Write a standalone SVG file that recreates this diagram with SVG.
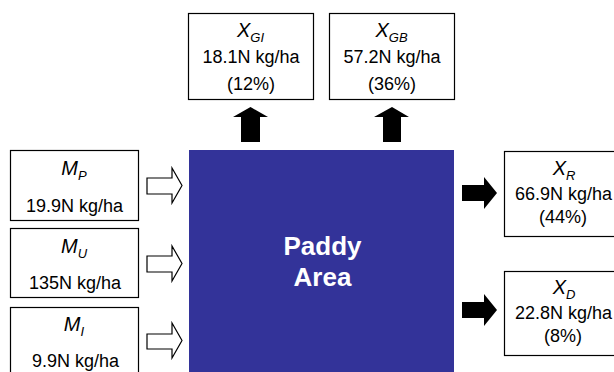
<svg xmlns="http://www.w3.org/2000/svg" width="614" height="372" viewBox="0 0 614 372">
<style>
.box{fill:#fff;stroke:#000;stroke-width:1.2}
.t{font-family:"Liberation Sans",Arial,sans-serif;font-size:18px;fill:#000;text-anchor:middle}
.v{font-family:"Liberation Sans",Arial,sans-serif;font-size:20px;font-style:italic;fill:#000;text-anchor:middle}
.s{font-size:13px}
.hol{fill:#fff;stroke:#000;stroke-width:1.2}
.sol{fill:#000}
.p{font-family:"Liberation Sans",Arial,sans-serif;font-size:26px;font-weight:bold;fill:#fff;text-anchor:middle}
</style>
<rect width="614" height="372" fill="#fff"/>
<g id="paddy">
<rect x="189" y="150" width="265" height="230" fill="#333399"/>
<text class="p" x="322.5" y="255">Paddy</text>
<text class="p" x="322.5" y="286">Area</text>
</g>
<g id="xgi">
<rect class="box" x="188.5" y="13.5" width="125" height="86"/>
<text class="v" x="250.5" y="37">X<tspan class="s" dy="5">GI</tspan></text>
<text class="t" x="251" y="63">18.1N kg/ha</text>
<text class="t" x="251" y="90">(12%)</text>
</g>
<g id="xgb">
<rect class="box" x="329.5" y="13.5" width="125" height="86"/>
<text class="v" x="391.5" y="37">X<tspan class="s" dy="5">GB</tspan></text>
<text class="t" x="392" y="63">57.2N kg/ha</text>
<text class="t" x="392" y="90">(36%)</text>
</g>
<g id="mp">
<rect class="box" x="10.5" y="150.5" width="128" height="70"/>
<text class="v" x="74" y="175">M<tspan class="s" dy="5">P</tspan></text>
<text class="t" x="74.5" y="212">19.9N kg/ha</text>
</g>
<g id="mu">
<rect class="box" x="10.5" y="228.5" width="128" height="69"/>
<text class="v" x="74" y="253">M<tspan class="s" dy="5">U</tspan></text>
<text class="t" x="75" y="289">135N kg/ha</text>
</g>
<g id="mi">
<rect class="box" x="10.5" y="307.5" width="128" height="80"/>
<text class="v" x="74" y="331">M<tspan class="s" dy="5">I</tspan></text>
<text class="t" x="75.5" y="367">9.9N kg/ha</text>
</g>
<g id="xr">
<rect class="box" x="504.5" y="151.5" width="125" height="85"/>
<text class="v" x="564" y="175">X<tspan class="s" dy="5">R</tspan></text>
<text class="t" x="563.5" y="200">66.9N kg/ha</text>
<text class="t" x="563" y="223">(44%)</text>
</g>
<g id="xd">
<rect class="box" x="504.5" y="271.5" width="125" height="84"/>
<text class="v" x="564" y="294">X<tspan class="s" dy="5">D</tspan></text>
<text class="t" x="563.5" y="319">22.8N kg/ha</text>
<text class="t" x="563" y="342">(8%)</text>
</g>
<g id="connectors">
<polygon class="sol" points="241,142 260,142 260,117 268,117 250.5,107 233,117 241,117"/>
<polygon class="sol" points="383,142 401,142 401,117 409,117 392,107 374,117 383,117"/>
<polygon class="hol" points="147,178 172,178 172,168 182,185.5 172,203 172,194 147,194"/>
<polygon class="hol" points="147,256 172,256 172,246 182,263.5 172,281 172,272 147,272"/>
<polygon class="hol" points="147,334 172,334 172,323 182,340.5 172,358 172,349 147,349"/>
<polygon class="sol" points="462,185 484,185 484,177 497,193 484,209 484,201 462,201"/>
<polygon class="sol" points="462,302 484,302 484,294 497,310 484,326 484,318 462,318"/>
</g>
</svg>
